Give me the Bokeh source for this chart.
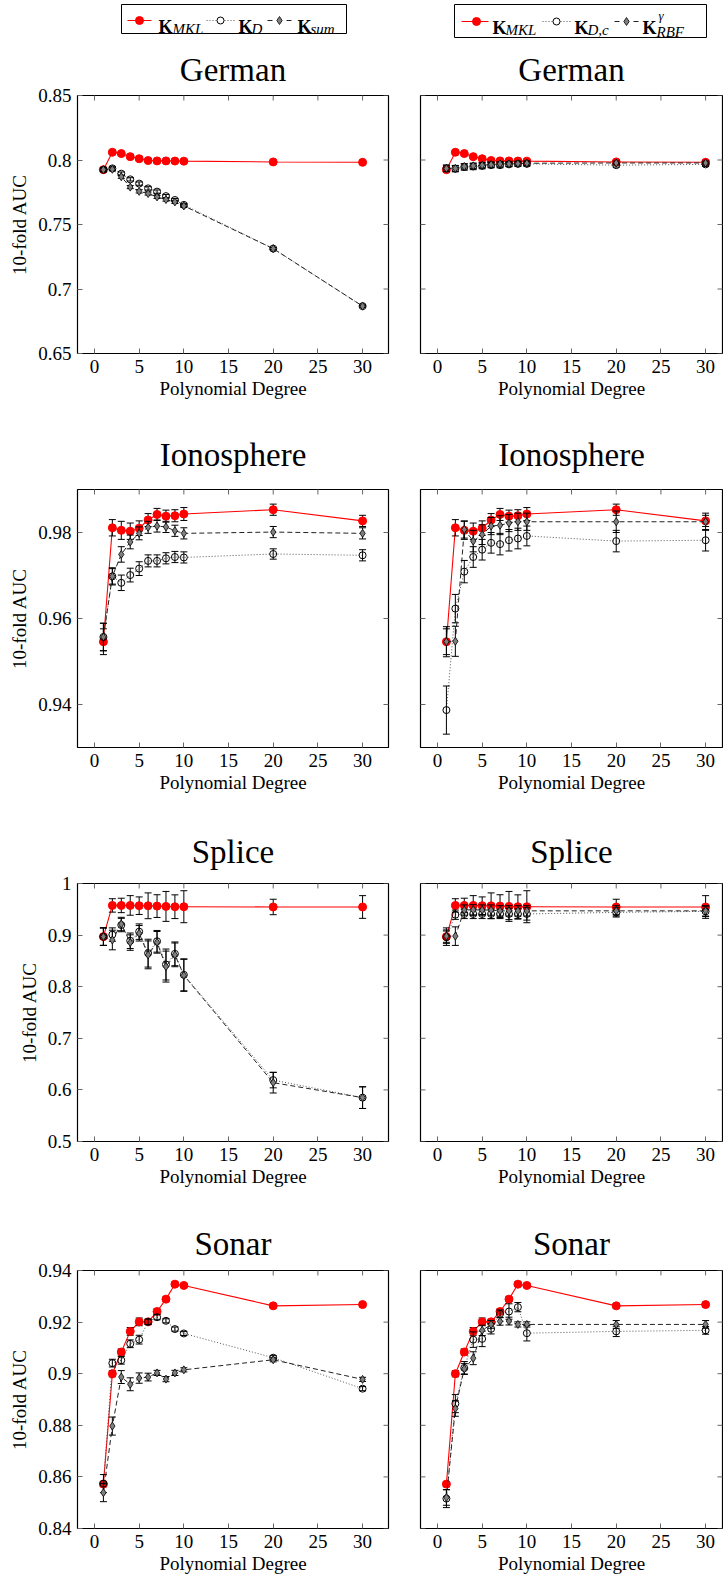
import math
from bokeh.plotting import figure
from bokeh.models import Range1d, FixedTicker, PrintfTickFormatter, ColumnDataSource
from bokeh.layouts import column, row
from bokeh.embed import file_html
from bokeh.resources import INLINE
from bokeh.core.properties import value

# ---------------- data ----------------
degrees = [1, 2, 3, 4, 5, 6, 7, 8, 9, 10, 20, 30]
x_ticks = [0, 5, 10, 15, 20, 25, 30]

german_yticks = [0.65, 0.7, 0.75, 0.8, 0.85]
german_mkl = [0.7925, 0.806, 0.805, 0.8026, 0.801, 0.7996, 0.7993, 0.7993, 0.7992, 0.7991, 0.7985, 0.7982]
german_mkl_err = [0.0015, 0.001, 0.001, 0.0008, 0.0008, 0.0008, 0.0008, 0.0008, 0.0008, 0.0008, 0.0008, 0.0008]
german_d = [0.7925, 0.7935, 0.7894, 0.785, 0.7817, 0.778, 0.7755, 0.772, 0.769, 0.7652, 0.7313, 0.6867]
german_d_err = [0.0015, 0.0013, 0.0013, 0.0013, 0.0013, 0.0013, 0.0013, 0.0013, 0.0012, 0.0012, 0.0008, 0.0008]
german_sum = [0.7925, 0.7928, 0.787, 0.779, 0.7757, 0.774, 0.7714, 0.7693, 0.7675, 0.7644, 0.7313, 0.6867]
german_sum_err = [0.0015, 0.0012, 0.0012, 0.0012, 0.0013, 0.0012, 0.0012, 0.0012, 0.0012, 0.0012, 0.0008, 0.0008]
german_dc = [0.7935, 0.7933, 0.7946, 0.795, 0.7954, 0.796, 0.796, 0.7966, 0.797, 0.797, 0.796, 0.7966]
german_dc_err = [0.0025, 0.0025, 0.0025, 0.0025, 0.0022, 0.002, 0.002, 0.0018, 0.0018, 0.0018, 0.0015, 0.0015]
german_rbf = [0.7935, 0.7935, 0.795, 0.7955, 0.796, 0.7965, 0.797, 0.797, 0.7972, 0.7975, 0.7977, 0.7977]
german_rbf_err = [0.0025, 0.0022, 0.002, 0.002, 0.002, 0.002, 0.0018, 0.0018, 0.0018, 0.0018, 0.0015, 0.0015]

iono_yticks = [0.94, 0.96, 0.98]
iono_mkl = [0.9546, 0.9811, 0.9805, 0.9803, 0.981, 0.9829, 0.9842, 0.9838, 0.9839, 0.9843, 0.9853, 0.9827]
iono_mkl_err = [0.003, 0.0019, 0.0021, 0.0019, 0.0017, 0.0015, 0.0014, 0.0014, 0.0014, 0.0015, 0.0013, 0.0013]
iono_d = [0.9557, 0.9698, 0.9683, 0.9701, 0.9716, 0.9734, 0.9734, 0.974, 0.9743, 0.9742, 0.975, 0.9747]
iono_d_err = [0.0032, 0.0018, 0.0018, 0.0016, 0.0016, 0.0014, 0.0014, 0.0013, 0.0013, 0.0013, 0.0012, 0.0013]
iono_sum = [0.9557, 0.9698, 0.9749, 0.9778, 0.9798, 0.9812, 0.9815, 0.9813, 0.9804, 0.9798, 0.9801, 0.9798]
iono_sum_err = [0.0032, 0.002, 0.0018, 0.0016, 0.0015, 0.0014, 0.0014, 0.0013, 0.0013, 0.0013, 0.0013, 0.0013]
iono_dc = [0.9387, 0.9623, 0.9709, 0.9743, 0.976, 0.9776, 0.9773, 0.9782, 0.9786, 0.9792, 0.978, 0.9782]
iono_dc_err = [0.0056, 0.0033, 0.0026, 0.0024, 0.0024, 0.0024, 0.0025, 0.0025, 0.0024, 0.0023, 0.0025, 0.0025]
iono_rbf = [0.9546, 0.9547, 0.9807, 0.978, 0.9795, 0.9815, 0.9817, 0.9822, 0.9825, 0.9825, 0.9825, 0.9825]
iono_rbf_err = [0.0035, 0.0035, 0.002, 0.0025, 0.0023, 0.002, 0.0022, 0.002, 0.002, 0.002, 0.0025, 0.002]

splice_yticks = [0.5, 0.6, 0.7, 0.8, 0.9, 1.0]
splice_mkl = [0.897, 0.9575, 0.9575, 0.9575, 0.957, 0.9568, 0.9562, 0.9556, 0.955, 0.955, 0.9545, 0.9545]
splice_mkl_err = [0.017, 0.013, 0.014, 0.019, 0.017, 0.025, 0.022, 0.029, 0.023, 0.031, 0.015, 0.022]
splice_d = [0.897, 0.901, 0.9195, 0.889, 0.9067, 0.865, 0.888, 0.843, 0.8637, 0.823, 0.619, 0.585]
splice_d_err = [0.017, 0.013, 0.013, 0.015, 0.015, 0.027, 0.021, 0.03, 0.023, 0.031, 0.015, 0.021]
splice_sum = [0.897, 0.8905, 0.9215, 0.8855, 0.9035, 0.8617, 0.886, 0.839, 0.8617, 0.822, 0.614, 0.585]
splice_sum_err = [0.017, 0.019, 0.013, 0.015, 0.015, 0.027, 0.021, 0.03, 0.023, 0.031, 0.02, 0.021]
splice_dc = [0.896, 0.9395, 0.941, 0.941, 0.941, 0.941, 0.941, 0.941, 0.941, 0.941, 0.944, 0.946]
splice_dc_err = [0.012, 0.009, 0.009, 0.009, 0.009, 0.009, 0.009, 0.011, 0.01, 0.012, 0.009, 0.01]
splice_rbf = [0.898, 0.898, 0.9485, 0.949, 0.9485, 0.9485, 0.947, 0.947, 0.947, 0.947, 0.947, 0.947]
splice_rbf_err = [0.012, 0.018, 0.01, 0.01, 0.01, 0.01, 0.01, 0.01, 0.01, 0.01, 0.01, 0.01]

sonar_yticks = [0.84, 0.86, 0.88, 0.9, 0.92, 0.94]
sonar_mkl = [0.8572, 0.9, 0.9084, 0.9164, 0.9201, 0.9201, 0.9241, 0.9289, 0.9347, 0.9342, 0.9263, 0.9268]
sonar_mkl_err = [0.001, 0.0012, 0.0012, 0.0015, 0.0015, 0.001, 0.001, 0.0008, 0.0008, 0.0008, 0.0008, 0.0008]
sonar_d = [0.8574, 0.9041, 0.9052, 0.9116, 0.9132, 0.9201, 0.9219, 0.9205, 0.9173, 0.9156, 0.9062, 0.8942]
sonar_d_err = [0.0035, 0.0015, 0.0015, 0.0015, 0.0017, 0.001, 0.001, 0.0008, 0.0008, 0.0008, 0.0008, 0.0008]
sonar_sum = [0.8539, 0.8797, 0.8987, 0.8959, 0.8983, 0.8987, 0.9003, 0.8979, 0.9003, 0.9015, 0.9054, 0.8978]
sonar_sum_err = [0.0035, 0.0035, 0.0025, 0.0025, 0.002, 0.0015, 0.001, 0.001, 0.001, 0.0008, 0.0008, 0.0008]
sonar_dc = [0.8516, 0.8884, 0.9022, 0.9132, 0.9135, 0.9174, 0.9232, 0.9241, 0.9258, 0.9157, 0.9164, 0.9168]
sonar_dc_err = [0.0035, 0.0035, 0.0025, 0.003, 0.003, 0.002, 0.0015, 0.003, 0.0018, 0.003, 0.002, 0.0015]
sonar_rbf = [0.852, 0.8865, 0.9019, 0.906, 0.9168, 0.9191, 0.9203, 0.9204, 0.9191, 0.9191, 0.9191, 0.9191]
sonar_rbf_err = [0.003, 0.003, 0.002, 0.0025, 0.002, 0.0015, 0.0015, 0.0015, 0.001, 0.001, 0.0015, 0.0015]

# ---------------- style ----------------
SERIF = "Liberation Serif"
RED = "#ff0000"
GRAY_FILL = "#7f7f7f"
TICK_COLOR = "#666666"
DOT = "1 2"
DASH = "5 3"
X_START = -1.9


def add_series(p, y, err, kind):
    lo = [a - e for a, e in zip(y, err)]
    hi = [a + e for a, e in zip(y, err)]
    src = ColumnDataSource(dict(x=degrees, y=y, lo=lo, hi=hi))
    if kind == "mkl":
        p.line("x", "y", source=src, line_color=RED, line_width=1.1)
    elif kind == "d":
        p.line("x", "y", source=src, line_color="#555555", line_width=1, line_dash=DOT)
    else:
        p.line("x", "y", source=src, line_color="#222222", line_width=1, line_dash=DASH)
    p.segment("x", "lo", "x", "hi", source=src, line_color="black", line_width=1)
    p.scatter("x", "lo", source=src, marker="dash", size=7, line_color="black", line_width=1)
    p.scatter("x", "hi", source=src, marker="dash", size=7, line_color="black", line_width=1)
    if kind == "mkl":
        p.scatter("x", "y", source=src, marker="circle", size=8, fill_color=RED, line_color=RED)
    elif kind == "d":
        p.scatter("x", "y", source=src, marker="circle", size=7, fill_color=None,
                  line_color="black", line_width=1)
    else:
        p.scatter("x", "y", source=src, marker="diamond", size=8, fill_color=GRAY_FILL,
                  line_color="black", line_width=0.8)


def make_panel(title, yr, yticks, mkl, mkl_err, s2, s2_err, s3, s3_err, left, top, bottom, standoff):
    fw = 311 if left else 302
    x_end = 32.9 if left else 31.89
    p = figure(frame_width=fw, frame_height=258,
               x_range=Range1d(X_START, x_end), y_range=Range1d(*yr),
               output_backend="svg", toolbar_location=None,
               min_border_left=77 if left else 20, min_border_right=12 if left else 1,
               min_border_top=top, min_border_bottom=bottom, title=title)
    p.title.text_font = SERIF
    p.title.text_font_size = "33px"
    p.title.text_font_style = "normal"
    p.title.text_color = "black"
    p.title.align = "center"
    p.title.standoff = standoff
    p.grid.visible = False
    p.outline_line_color = "black"
    p.outline_line_width = 1.2
    p.outline_line_alpha = 1
    p.background_fill_color = "white"
    p.border_fill_color = "white"

    xt = FixedTicker(ticks=x_ticks)
    yt = FixedTicker(ticks=yticks)
    xax = p.below[0]
    yax = p.left[0]
    xax.ticker = xt
    yax.ticker = yt
    yax.formatter = PrintfTickFormatter(format="%g")
    for ax in (xax, yax):
        ax.axis_line_color = None
        ax.major_tick_in = 5
        ax.major_tick_out = 0
        ax.major_tick_line_color = TICK_COLOR
        ax.minor_tick_line_color = None
        ax.major_label_text_font = SERIF
        ax.major_label_text_font_size = "19px"
        ax.major_label_text_color = "black"
        ax.axis_label_text_font = SERIF
        ax.axis_label_text_font_size = "19px"
        ax.axis_label_text_font_style = "normal"
        ax.axis_label_text_color = "black"
    xax.major_label_standoff = 6
    xax.axis_label = "Polynomial Degree"
    xax.axis_label_standoff = 2
    if left:
        yax.axis_label = "10-fold AUC"
        yax.major_label_standoff = 6
        yax.axis_label_standoff = 5
    else:
        yax.visible = False

    add_series(p, mkl, mkl_err, "mkl")
    add_series(p, s2, s2_err, "d")
    add_series(p, s3, s3_err, "sum")

    # mirrored inward ticks (half of each dash is clipped away by the frame)
    p.scatter(x=x_ticks, y=[yr[1]] * len(x_ticks), marker="dash", angle=math.pi / 2, size=10,
              line_color=TICK_COLOR, line_width=1)
    p.scatter(x=[x_end] * len(yticks), y=yticks, marker="dash", size=10,
              line_color=TICK_COLOR, line_width=1)
    if not left:
        p.scatter(x=[X_START] * len(yticks), y=yticks, marker="dash", size=10,
                  line_color=TICK_COLOR, line_width=1)
    return p


# ---------------- legend strip ----------------
leg = figure(frame_width=723, frame_height=38, x_range=Range1d(0, 723), y_range=Range1d(38, 0),
             output_backend="svg", toolbar_location=None,
             min_border_left=0, min_border_right=0, min_border_top=0, min_border_bottom=0)
leg.axis.visible = False
leg.grid.visible = False
leg.outline_line_color = None
leg.border_fill_color = "white"


def legend_box(l, r, t, b, ly, xs, keys, subs, sup=None):
    leg.quad(left=[l], right=[r], top=[t], bottom=[b], fill_color="white", line_color="black", line_width=1)
    (a0, a1, am), (b0, b1, bm), (c0, c1, cm) = xs
    leg.line([a0, a1], [ly, ly], line_color=RED, line_width=1.1)
    leg.scatter([am], [ly], marker="circle", size=8, fill_color=RED, line_color=RED)
    leg.line([b0, b1], [ly, ly], line_color="#555555", line_width=1, line_dash=DOT)
    leg.scatter([bm], [ly], marker="circle", size=7, fill_color="white", line_color="black")
    leg.line([c0, c0 + 5], [ly, ly], line_color="#222222", line_width=1)
    leg.line([c1 - 5, c1], [ly, ly], line_color="#222222", line_width=1)
    leg.scatter([cm], [ly], marker="diamond", size=8, fill_color=GRAY_FILL, line_color="black", line_width=0.8)
    kx, kb = keys
    leg.text(x=kx, y=[kb] * 3, text=["K"] * 3, text_font=value(SERIF), text_font_size="18px",
             text_font_style="bold", text_baseline="alphabetic", text_align="left", text_color="black")
    sx, sy, st = subs
    leg.text(x=sx, y=sy, text=st, text_font=value(SERIF), text_font_size="15px",
             text_font_style="italic", text_baseline="alphabetic", text_align="left", text_color="black")
    if sup:
        leg.text(x=[sup[0]], y=[sup[1]], text=[sup[2]], text_font=value(SERIF), text_font_size="13px",
                 text_font_style="italic", text_baseline="alphabetic", text_align="left", text_color="black")


legend_box(121, 346, 4, 33, 20,
           [(127, 151, 139), (206, 234, 220), (267, 291, 279)],
           ([158, 238, 297], 26),
           ([172, 251, 310], [28, 28, 28], ["MKL", "D", "sum"]))
legend_box(454, 706, 4, 37, 21,
           [(461, 488, 476), (542, 570, 556), (614, 638, 626)],
           ([492, 574, 642], 27),
           ([505, 587, 656], [29, 29, 31], ["MKL", "D,c", "RBF"]),
           sup=(658, 15, "γ"))

# ---------------- panels ----------------
g_l = make_panel("German", (0.65, 0.85), german_yticks, german_mkl, german_mkl_err,
                 german_d, german_d_err, german_sum, german_sum_err, True, 57, 62, 16)
g_r = make_panel("German", (0.65, 0.85), german_yticks, german_mkl, german_mkl_err,
                 german_dc, german_dc_err, german_rbf, german_rbf_err, False, 57, 62, 16)
i_l = make_panel("Ionosphere", (0.93, 0.99), iono_yticks, iono_mkl, iono_mkl_err,
                 iono_d, iono_d_err, iono_sum, iono_sum_err, True, 74, 68, 34)
i_r = make_panel("Ionosphere", (0.93, 0.99), iono_yticks, iono_mkl, iono_mkl_err,
                 iono_dc, iono_dc_err, iono_rbf, iono_rbf_err, False, 74, 68, 34)
s_l = make_panel("Splice", (0.5, 1.0), splice_yticks, splice_mkl, splice_mkl_err,
                 splice_d, splice_d_err, splice_sum, splice_sum_err, True, 68, 66, 28)
s_r = make_panel("Splice", (0.5, 1.0), splice_yticks, splice_mkl, splice_mkl_err,
                 splice_dc, splice_dc_err, splice_rbf, splice_rbf_err, False, 68, 66, 28)
n_l = make_panel("Sonar", (0.84, 0.94), sonar_yticks, sonar_mkl, sonar_mkl_err,
                 sonar_d, sonar_d_err, sonar_sum, sonar_sum_err, True, 63, 49, 18)
n_r = make_panel("Sonar", (0.84, 0.94), sonar_yticks, sonar_mkl, sonar_mkl_err,
                 sonar_dc, sonar_dc_err, sonar_rbf, sonar_rbf_err, False, 63, 49, 18)

layout = column(leg, row(g_l, g_r), row(i_l, i_r), row(s_l, s_r), row(n_l, n_r))

open("out.html", "w").write(file_html(layout, INLINE))
